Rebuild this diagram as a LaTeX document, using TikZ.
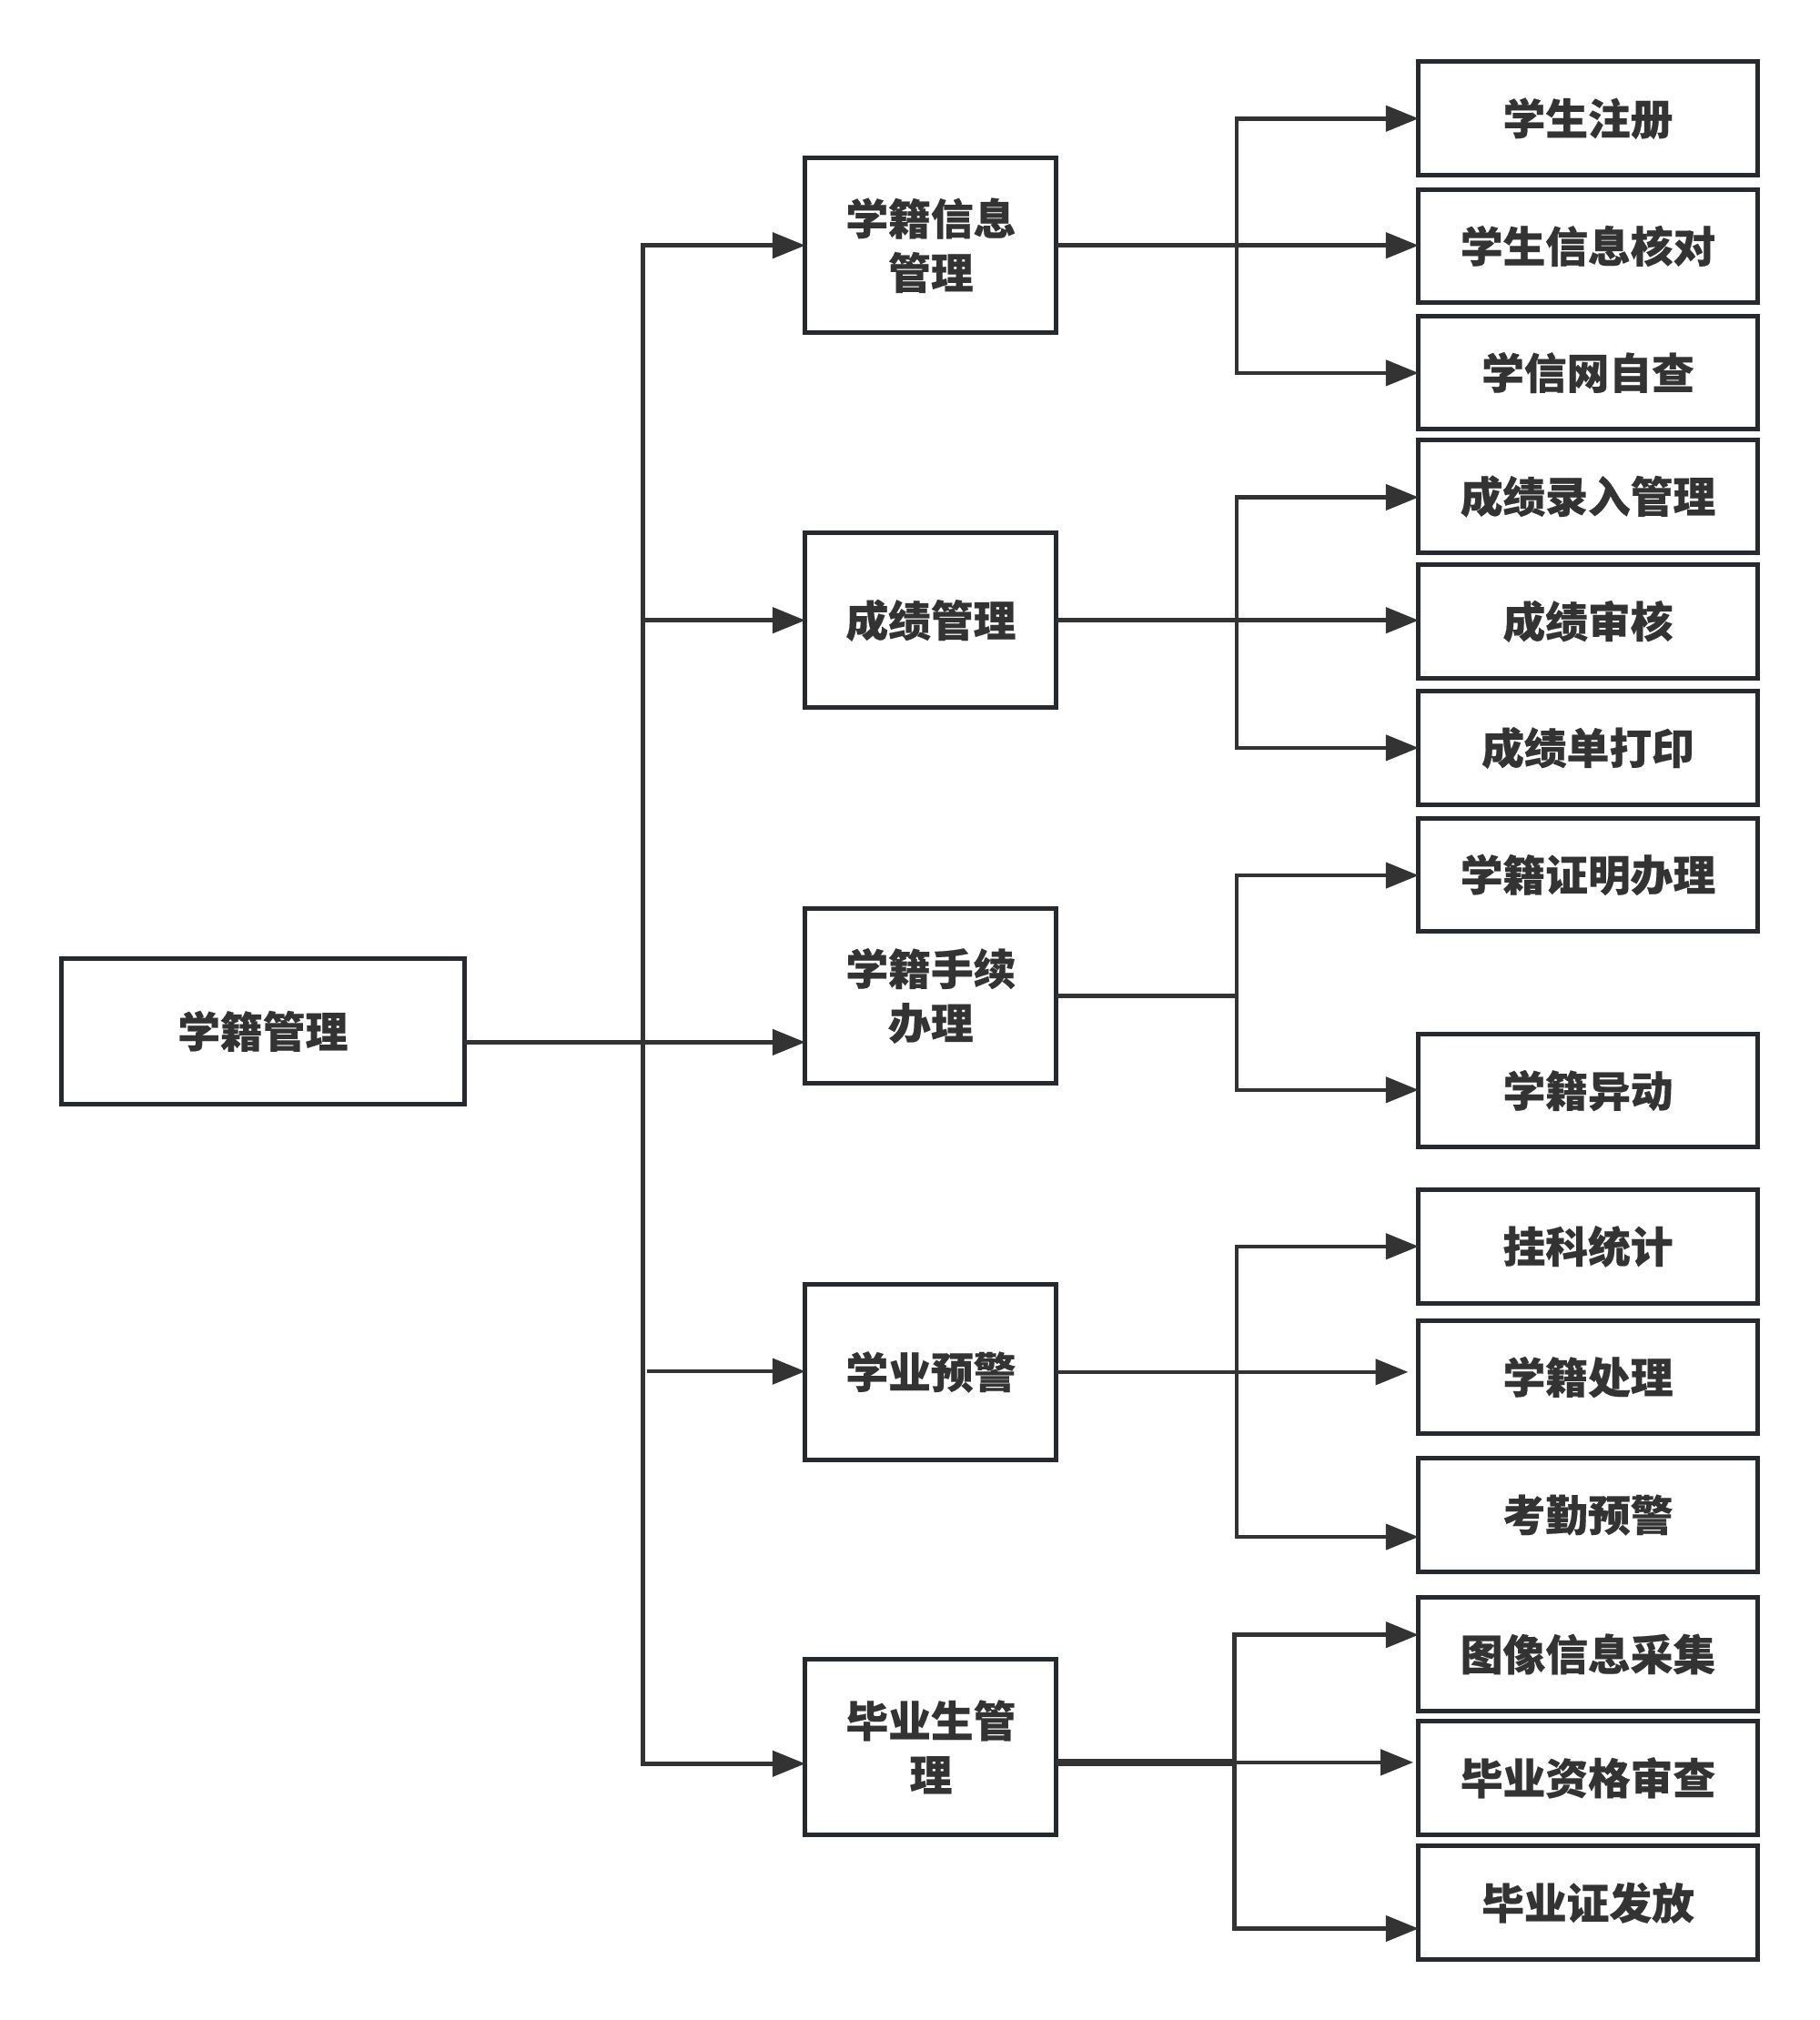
\documentclass[tikz,border=0pt]{standalone}
\usepackage{fontspec}
\setmainfont{Noto Sans CJK SC}[BoldFeatures={FakeBold=0.4}]
\usetikzlibrary{arrows.meta}
\definecolor{bordercol}{HTML}{262A2F}
\definecolor{linecol}{HTML}{333333}
\definecolor{textcol}{HTML}{333333}
\begin{document}
\begin{tikzpicture}[x=0.0141572cm,y=-0.0141572cm,
  box/.style={draw=bordercol,line width=0.05cm,fill=white,inner sep=0pt,outer sep=0pt,
    font=\fontsize{13.3}{16.9}\selectfont\bfseries,text=textcol,align=center},
  rootbox/.style={box,minimum width=4.431cm,minimum height=1.600cm},
  midbox/.style={box,minimum width=2.761cm,minimum height=1.925cm},
  leafbox/.style={box,minimum width=3.723cm,minimum height=1.246cm},
  conn/.style={draw=linecol,line width=0.045cm},
  vline/.style={conn,line cap=rect},
  thickconn/.style={draw=linecol,line width=0.08cm},
  arr/.style={conn,-{Triangle[length=0.36cm,width=0.28cm]}}]

\fill[white] (0,0) rectangle (1412,1568);
\useasboundingbox (0,0) rectangle (1412,1568);

% nodes
\node[rootbox] (root) at (204,800.5) {学籍管理};

\node[midbox] (m1) at (722.5,190.5) {学籍信息\\管理};
\node[midbox] (m2) at (722.5,481.5) {成绩管理};
\node[midbox] (m3) at (722.5,773) {学籍手续\\办理};
\node[midbox] (m4) at (722.5,1065) {学业预警};
\node[midbox] (m5) at (722.5,1356) {毕业生管\\理};

\node[leafbox] (r1) at (1232.5,92) {学生注册};
\node[leafbox] (r2) at (1232.5,191) {学生信息核对};
\node[leafbox] (r3) at (1232.5,289.3) {学信网自查};
\node[leafbox] (r4) at (1232.5,385.3) {成绩录入管理};
\node[leafbox] (r5) at (1232.5,482.3) {成绩审核};
\node[leafbox] (r6) at (1232.5,580.5) {成绩单打印};
\node[leafbox] (r7) at (1232.5,679) {学籍证明办理};
\node[leafbox] (r8) at (1232.5,846.5) {学籍异动};
\node[leafbox] (r9) at (1232.5,967.5) {挂科统计};
\node[leafbox] (r10) at (1232.5,1069) {学籍处理};
\node[leafbox] (r11) at (1232.5,1176) {考勤预警};
\node[leafbox] (r12) at (1232.5,1284) {图像信息采集};
\node[leafbox] (r13) at (1232.5,1380) {毕业资格审查};
\node[leafbox] (r14) at (1232.5,1477) {毕业证发放};

% trunk
\coordinate (ta) at (499,190.5);
\coordinate (t2) at (497,481.5);
\coordinate (t3) at (499,809);
\coordinate (t4) at (502,1064.5);
\coordinate (tb) at (499,1369);
\draw[vline] (ta) -- (tb);
\draw[arr] (ta) -- (m1.west |- ta);
\draw[arr] (t2) -- (m2.west |- t2);
\draw[arr] (root.east |- t3) -- (m3.west |- t3);
\draw[arr] (t4) -- (m4.west |- t4);
\draw[arr] (tb) -- (m5.west |- tb);

% group 1
\coordinate (a1) at (960,92);
\coordinate (a3) at (960,289.5);
\draw[vline] (a1) -- (a3);
\draw[arr] (a1) -- (r1.west |- a1);
\draw[arr] (m1.east) -- (r2.west |- m1.east);
\draw[arr] (a3) -- (r3.west |- a3);

% group 2
\coordinate (a4) at (960,386);
\coordinate (a6) at (960,580.5);
\draw[vline] (a4) -- (a6);
\draw[arr] (a4) -- (r4.west |- a4);
\draw[arr] (m2.east) -- (r5.west |- m2.east);
\draw[arr] (a6) -- (r6.west |- a6);

% group 3
\coordinate (a7) at (960,679.5);
\coordinate (a8) at (960,846);
\draw[vline] (a7) -- (a8);
\draw[conn] (m3.east) -- (m3.east -| a7);
\draw[arr] (a7) -- (r7.west |- a7);
\draw[arr] (a8) -- (r8.west |- a8);

% group 4
\coordinate (a9) at (960,967.5);
\coordinate (a11) at (960,1193);
\coordinate (e10) at (1093,1065);
\draw[vline] (a9) -- (a11);
\draw[arr] (m4.east) -- (e10);
\draw[arr] (a9) -- (r9.west |- a9);
\draw[arr] (a11) -- (r11.west |- a11);

% group 5
\coordinate (a12) at (958,1269);
\coordinate (a14) at (958,1497);
\coordinate (j13) at (958,1368);
\coordinate (e13) at (1097,1368);
\draw[vline] (a12) -- (a14);
\draw[thickconn] (m5.east |- j13) -- (j13);
\draw[arr] (j13) -- (e13);
\draw[arr] (a12) -- (r12.west |- a12);
\draw[arr] (a14) -- (r14.west |- a14);
\end{tikzpicture}
\end{document}
